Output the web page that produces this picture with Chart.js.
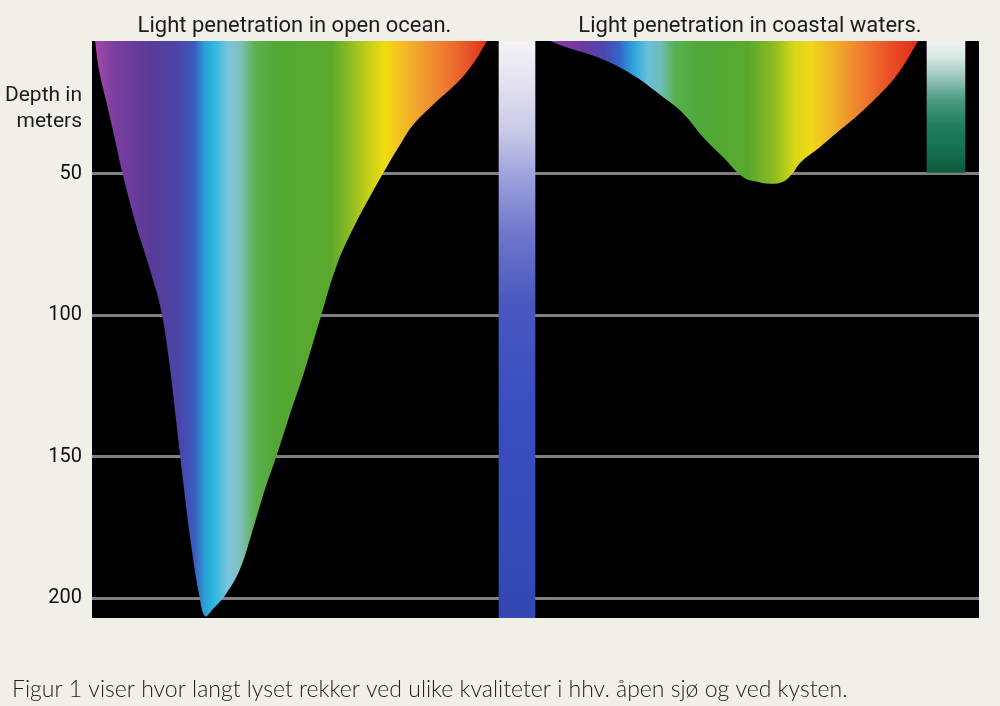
<!DOCTYPE html>
<html>
<head>
<meta charset="utf-8">
<script src="https://cdn.jsdelivr.net/npm/chart.js@4.4.1/dist/chart.umd.min.js"></script>
<style>
  html, body { margin: 0; padding: 0; background: #f0efe8; }
  #wrap { width: 1000px; height: 706px; }
</style>
</head>
<body>
<div id="wrap"><canvas id="chart" width="1000" height="706"></canvas></div>
<script>
// depth axis (m)
const depthTicks = [50, 100, 150, 200];

// open ocean: wavelength (nm) -> deepest depth (m) the light reaches
const oceanWavelength = [400, 403.1, 408.4, 414.5, 421.4, 431.4, 442.1, 450.5, 456.6, 462.0, 467.3, 473.5, 479.6, 484.2,
  490.3, 500.3, 511.0, 520.9, 530.1, 539.3, 549.2, 560.7, 572.2, 585.2, 599.0, 612.0, 624.2, 633.4, 643.4,
  660.2, 677.8, 690.1, 700];
const oceanDepth = [3, 13.3, 23.9, 36.2, 50.4, 68.0, 83.9, 98.0, 115.6, 136.8, 158.0, 180.9, 198.5, 206.3,
  203.8, 198.5, 189.7, 175.6, 161.5, 149.2, 135.0, 119.1, 101.5, 82.1, 68.0, 56.7, 46.8, 39.8, 32.7,
  24.9, 17.5, 10.5, 3];

// coastal waters
const coastWavelength = [400, 412.2, 438.3, 465.2, 492.1, 508.4, 524.7, 541.0, 557.3, 568.7, 579.3, 589.9,
  598.1, 603.8, 620.1, 636.4, 652.7, 666.6, 679.6, 689.4, 700];
const coastDepth = [3, 5.0, 8.7, 14.4, 22.8, 28.5, 36.9, 44.0, 51.1, 52.8, 53.5, 52.8,
  49.6, 46.1, 40.5, 34.5, 28.5, 22.8, 16.8, 10.8, 3];

// colour bars: open ocean water column, coastal water colour
const oceanBarRange = [3, 207];
const coastBarWavelength = 722.8;
const coastBarRange = [3, 49.5];

const panelTitles = ['Light penetration in open ocean.', 'Light penetration in coastal waters.'];
const depthTitle = ['Depth in', 'meters'];
const caption = 'Figur 1 viser hvor langt lyset rekker ved ulike kvaliteter i hhv. åpen sjø og ved kysten.';

const SPEC_FROM = 400, SPEC_TO = 700;

const oceanStops = [
  [0, '#a24aa8'], [0.05, '#7a3ea0'], [0.14, '#5a3a98'], [0.217, '#4a46a8'], [0.255, '#3a5cc0'],
  [0.28, '#2aa0d8'], [0.306, '#30b8e0'], [0.34, '#7cc4dc'], [0.37, '#80c0c0'], [0.408, '#5cb050'],
  [0.46, '#52a834'], [0.6, '#5aa82c'], [0.65, '#8cbc22'], [0.70, '#c8d018'], [0.74, '#f0dc10'],
  [0.778, '#f4c020'], [0.83, '#f0a030'], [0.893, '#ee7a30'], [0.957, '#e85028'], [1, '#e02a1c']
];
const coastStops = [
  [0, '#8a3aa6'], [0.095, '#6a3aa0'], [0.15, '#4a48b0'], [0.19, '#3468c8'], [0.23, '#30a8dc'],
  [0.266, '#68c0d8'], [0.3, '#70bcb8'], [0.34, '#58b050'], [0.41, '#50a838'], [0.54, '#58a82c'],
  [0.61, '#90bc22'], [0.666, '#d8d818'], [0.707, '#f0d818'], [0.774, '#f0b028'], [0.842, '#f08030'],
  [0.924, '#ea5028'], [1, '#e02a1c']
];
const oceanBarStops = [
  [0, '#f4f2f4'], [0.07, '#e4e2f0'], [0.16, '#c8c8e8'], [0.23, '#a0a4dc'], [0.33, '#7078cc'],
  [0.45, '#4a58c0'], [0.62, '#3a4ec0'], [1, '#3448b4']
];
const coastBarStops = [
  [0, '#f2f2ee'], [0.12, '#d8e8e4'], [0.27, '#9cc8bc'], [0.45, '#4a9a80'], [0.64, '#1f7e5e'],
  [0.83, '#147050'], [1, '#0e5a3e']
];

function toPoints(xs, ys) {
  return xs.map((x, i) => ({ x, y: ys[i] }));
}

function spectrumFill(axisId, stops) {
  return (context) => {
    const chart = context.chart;
    if (!chart.chartArea) return 'transparent';
    const sx = chart.scales[axisId];
    const g = chart.ctx.createLinearGradient(sx.getPixelForValue(SPEC_FROM), 0, sx.getPixelForValue(SPEC_TO), 0);
    stops.forEach(([p, c]) => g.addColorStop(p, c));
    return g;
  };
}

function columnFill(range, stops) {
  return (context) => {
    const chart = context.chart;
    if (!chart.chartArea) return 'transparent';
    const sy = chart.scales.y;
    const g = chart.ctx.createLinearGradient(0, sy.getPixelForValue(range[0]), 0, sy.getPixelForValue(range[1]));
    stops.forEach(([p, c]) => g.addColorStop(p, c));
    return g;
  };
}

const panelPlugin = {
  id: 'panel',
  beforeDraw(chart) {
    const { ctx, chartArea: a } = chart;
    ctx.save();
    ctx.fillStyle = '#000';
    ctx.fillRect(a.left, a.top, a.right - a.left, a.bottom - a.top);
    ctx.restore();
  },
  afterDraw(chart) {
    const { ctx, scales } = chart;
    ctx.save();
    ctx.fillStyle = '#1b1b1b';
    ctx.textBaseline = 'alphabetic';
    ctx.font = '22px Roboto';
    ctx.textAlign = 'center';
    ctx.fillText(panelTitles[0], (scales.xl.left + scales.xl.right) / 2, 32);
    ctx.fillText(panelTitles[1], 750, 32);
    ctx.font = '21px Roboto';
    ctx.textAlign = 'right';
    ctx.fillText(depthTitle[0], 82, 101);
    ctx.fillText(depthTitle[1], 82, 127);
    ctx.font = '300 23px Lato';
    ctx.textAlign = 'left';
    ctx.fillStyle = '#222';
    ctx.fillText(caption, 12, 697);
    ctx.restore();
  }
};

const line = {
  fill: 'origin',
  borderColor: 'rgba(0,0,0,0)',
  borderWidth: 0,
  pointRadius: 0,
  tension: 0.4
};

new Chart(document.getElementById('chart'), {
  type: 'line',
  data: {
    datasets: [
      {
        ...line,
        data: toPoints(oceanWavelength, oceanDepth),
        xAxisID: 'xl',
        backgroundColor: spectrumFill('xl', oceanStops)
      },
      {
        type: 'bar',
        data: [oceanBarRange],
        xAxisID: 'xm',
        grouped: false,
        backgroundColor: columnFill(oceanBarRange, oceanBarStops),
        barThickness: 36
      },
      {
        ...line,
        data: toPoints(coastWavelength, coastDepth),
        xAxisID: 'xr',
        backgroundColor: spectrumFill('xr', coastStops)
      },
      {
        type: 'bar',
        data: [{ x: coastBarWavelength, y: coastBarRange }],
        xAxisID: 'xr',
        grouped: false,
        backgroundColor: columnFill(coastBarRange, coastBarStops),
        barThickness: 38
      }
    ]
  },
  options: {
    responsive: false,
    animation: false,
    events: [],
    layout: { padding: { top: 41, right: 21, bottom: 88, left: 0 } },
    plugins: { legend: { display: false }, tooltip: { enabled: false } },
    scales: {
      xl: { type: 'linear', position: 'bottom', stack: 'panels', stackWeight: 405, min: 397.7, max: 707.7, offset: false, display: false },
      xm: { type: 'category', position: 'bottom', stack: 'panels', stackWeight: 40, labels: [''], offset: true, display: false },
      xr: { type: 'linear', position: 'bottom', stack: 'panels', stackWeight: 442, min: 389.4, max: 749.7, offset: false, display: false },
      y: {
        type: 'linear',
        reverse: true,
        min: 3,
        max: 207,
        z: 1,
        afterFit: (scale) => { scale.width = 92; },
        afterBuildTicks: (scale) => { scale.ticks = depthTicks.map(v => ({ value: v })); },
        grid: { color: 'rgba(255,255,255,0.5)', lineWidth: 3, drawTicks: false },
        border: { display: false },
        ticks: { color: '#111', font: { family: 'Roboto', size: 20 }, padding: 10 }
      }
    }
  },
  plugins: [panelPlugin]
});
</script>
</body>
</html>
